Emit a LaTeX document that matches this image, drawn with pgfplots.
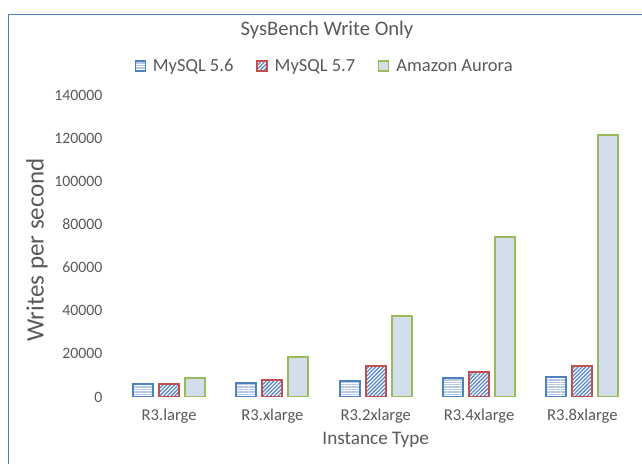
\documentclass[border=0pt]{standalone}
\usepackage{pgfplots}
\pgfplotsset{compat=1.18}
\usepackage{pgfplotstable}
\usetikzlibrary{patterns.meta}
\usepackage{fontspec}
\setmainfont{Carlito}
\definecolor{txt}{HTML}{595959}
\definecolor{frame}{HTML}{4F81BD}
\definecolor{bA}{HTML}{4F81BD}
\definecolor{bAp}{HTML}{B4C8E4}
\definecolor{bB}{HTML}{C0504D}
\definecolor{bBp}{HTML}{5B87C8}
\definecolor{bC}{HTML}{9BBB59}
\definecolor{bCf}{HTML}{D3DEED}
\pgfplotstableread{
x m56 m57 aurora
0 6200 6200 8700
1 6300 7900 18400
2 7600 14500 37600
3 8700 11500 74400
4 9400 14400 121300
}\datatable

\begin{document}
\begin{tikzpicture}
\useasboundingbox (0,0) rectangle (642bp,464bp);
\draw[frame, line width=1bp] (8.5bp,-2bp) -- (8.5bp,449.5bp) -- (650bp,449.5bp);
\begin{axis}[
  at={(117.5bp,67bp)}, anchor=south west,
  scale only axis, width=516.5bp, height=302bp,
  xmin=-0.5, xmax=4.5, ymin=0, ymax=140000,
  ybar=6bp, bar width=20bp,
  axis line style={draw=none},
  tick style={draw=none},
  xtick={0,...,4},
  xticklabels={R3.large,R3.xlarge,R3.2xlarge,R3.4xlarge,R3.8xlarge},
  ytick={0,20000,...,140000},
  scaled y ticks=false,
  /pgf/number format/fixed,
  /pgf/number format/1000 sep={},
  /pgf/number format/assume math mode=true,
  ticklabel style={text=txt},
  yticklabel style={font=\fontsize{15.8bp}{18bp}\selectfont, inner sep=0pt, anchor=east, xshift=-15bp},
  xticklabel style={font=\fontsize{16.6bp}{19bp}\selectfont, inner sep=0pt, anchor=north, yshift=-7.5bp},
  xlabel={Instance Type},
  ylabel={Writes per second},
  xlabel style={at={(axis description cs:0.5,-0.142)}, anchor=center, font=\fontsize{19.2bp}{22bp}\selectfont, text=txt},
  ylabel style={at={(axis description cs:-0.156,0.487)}, anchor=center, font=\fontsize{25bp}{28bp}\selectfont, text=txt},
  title={SysBench Write Only},
  title style={at={(axis description cs:0.4056,1.195)}, anchor=center, font=\fontsize{20.6bp}{24bp}\selectfont, text=txt},
  legend columns=3,
  legend style={at={(axis description cs:0.401,1.096)}, anchor=center, draw=none, fill=none,
    font=\fontsize{18.5bp}{21bp}\selectfont, text=txt,
    /tikz/every odd column/.append style={column sep=5bp},
    /tikz/every even column/.append style={column sep=21bp}},
  sq legend/.style={legend image code/.code={\draw[##1, line width=1.3bp] (0bp,-5bp) rectangle (10bp,5bp);}},
]
\addplot[sq legend, draw=bA, line width=2bp, pattern={Lines[angle=0,distance=2.4bp,line width=1.4bp]}, pattern color=bAp] table[x=x,y=m56]{\datatable};
\addlegendentry{MySQL 5.6}
\addplot[sq legend, draw=bB, line width=2bp, pattern={Lines[angle=45,distance=2.7bp,line width=1.3bp]}, pattern color=bBp] table[x=x,y=m57]{\datatable};
\addlegendentry{MySQL 5.7}
\addplot[sq legend, draw=bC, line width=2bp, fill=bCf] table[x=x,y=aurora]{\datatable};
\addlegendentry{Amazon Aurora}
\end{axis}
\end{tikzpicture}
\end{document}
